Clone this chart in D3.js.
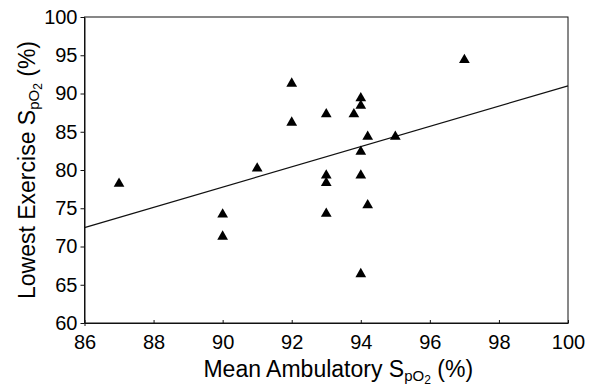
<!DOCTYPE html>
<html>
<head>
  <meta charset="utf-8">
  <title>Exercise SpO2</title>
  <script src="https://cdnjs.cloudflare.com/ajax/libs/d3/7.8.5/d3.min.js"></script>
  <style>
    html, body { margin: 0; padding: 0; background: #fff; }
    svg { font-family: "Liberation Sans", Arial, sans-serif; }
  </style>
</head>
<body>
  <svg id="chart" width="589" height="388"></svg>
  <script>
    // mean ambulatory SpO2 (x) vs lowest exercise SpO2 (y)
    let ambulatory = [87, 90, 90, 91, 92, 92, 93, 93, 93, 93, 93.8, 94, 94, 94, 94, 94, 94.2, 94.2, 95, 97]
    let exercise = [78.2, 74.2, 71.3, 80.2, 91.3, 86.2, 87.3, 79.3, 78.3, 74.3, 87.3, 89.4, 88.4, 82.4, 79.3, 66.4, 84.35, 75.4, 84.35, 94.4]
    let xTicks = [86, 88, 90, 92, 94, 96, 98, 100]
    let yTicks = [60, 65, 70, 75, 80, 85, 90, 95, 100]

    let margin = { top: 17, right: 21, bottom: 65, left: 84.5 }
    let width = 589, height = 388

    let svg = d3.select('#chart')

    let x = d3.scaleLinear().domain([86, 100]).range([margin.left, width - margin.right])
    let y = d3.scaleLinear().domain([60, 100]).range([height - margin.bottom, margin.top])

    // frame
    svg.append('rect')
      .attr('x', x(86)).attr('y', y(100))
      .attr('width', x(100) - x(86)).attr('height', y(60) - y(100))
      .attr('fill', 'none').attr('stroke', '#111').attr('stroke-width', 1)

    const xAxis = svg.append('g')
      .attr('transform', `translate(0,${y(60)})`)
      .call(d3.axisBottom(x).tickValues(xTicks).tickSizeInner(-3).tickSizeOuter(0).tickPadding(12))
    const yAxis = svg.append('g')
      .attr('transform', `translate(${x(86)},0)`)
      .call(d3.axisLeft(y).tickValues(yTicks).tickSizeInner(4).tickSizeOuter(0).tickPadding(3))

    for (let ax of [xAxis, yAxis]) {
      ax.select('.domain').attr('stroke', '#111')
      ax.selectAll('.tick line').attr('stroke', '#111')
      ax.selectAll('.tick text').attr('font-size', 20).attr('fill', '#000')
        .attr('font-family', '"Liberation Sans", Arial, sans-serif')
    }
    xAxis.select('.tick line').attr('y2', 3).attr('y1', -3)

    // least squares fit
    let mx = d3.mean(ambulatory), my = d3.mean(exercise)
    let sxy = d3.sum(ambulatory, (v, i) => (v - mx) * (exercise[i] - my))
    let sxx = d3.sum(ambulatory, v => (v - mx) ** 2)
    let slope = sxy / sxx
    let fit = v => my + slope * (v - mx)

    svg.append('path')
      .attr('d', d3.line()([[x(86), y(fit(86))], [x(100), y(fit(100))]]))
      .attr('stroke', '#111').attr('stroke-width', 1.3).attr('fill', 'none')

    svg.append('g').selectAll('path')
      .data(ambulatory)
      .join('path')
      .attr('transform', (d, i) => `translate(${x(d)},${y(exercise[i])})`)
      .attr('d', d3.symbol(d3.symbolTriangle, 50))
      .attr('fill', '#000')

    // axis titles with subscripts
    const title = (g, label) => {
      let t = g.append('text').attr('font-size', 23).attr('fill', '#000').attr('text-anchor', 'middle')
      t.append('tspan').text(label + ' S')
      t.append('tspan').attr('font-size', 15).attr('dy', 4).text('pO')
      t.append('tspan').attr('font-size', 12).attr('dy', 3).text('2')
      t.append('tspan').attr('dy', -7).text(' (%)')
      return t
    }

    title(svg.append('g').attr('transform', `translate(${(x(86) + x(100)) / 2 + 12},377)`), 'Mean Ambulatory')
    title(svg.append('g').attr('transform', `translate(35,${(y(60) + y(100)) / 2}) rotate(-90)`), 'Lowest Exercise')
  </script>
</body>
</html>
